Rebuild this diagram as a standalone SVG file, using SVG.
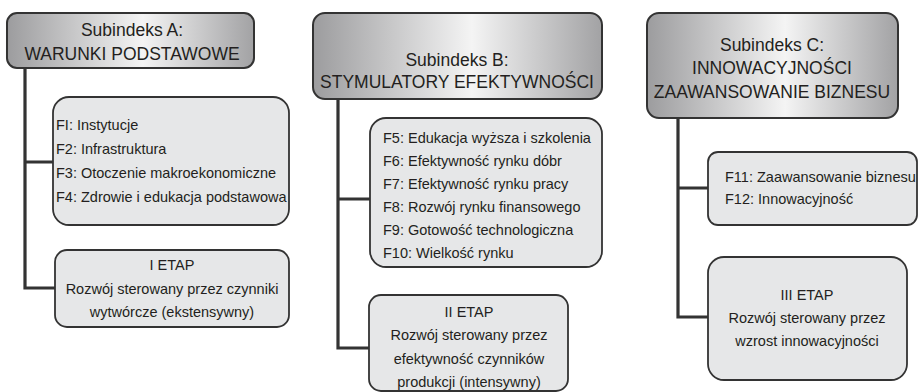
<svg xmlns="http://www.w3.org/2000/svg" width="919" height="392" viewBox="0 0 919 392">
<defs>
<linearGradient id="hdr" x1="0" y1="0" x2="1" y2="0">
<stop offset="0" stop-color="#9c9c9e"/>
<stop offset="0.55" stop-color="#f4f4f4"/>
<stop offset="1" stop-color="#a2a2a4"/>
</linearGradient>
<style>
.hdr{fill:url(#hdr);stroke:#333;stroke-width:2}
.box{fill:#e6e7e8;stroke:#333;stroke-width:1.8}
.conn{fill:none;stroke:#333;stroke-width:3.2}
text{font-family:"Liberation Sans",Arial,sans-serif;fill:#231f20}
.h{font-size:17.5px;text-anchor:middle}
.t{font-size:14.5px}
.c{font-size:14.5px;text-anchor:middle}
</style>
</defs>
<rect width="919" height="392" fill="#fff"/>
<g id="connectors">
<path class="conn" d="M25 68 V288 H55 M25 162 H53"/>
<path class="conn" d="M338 99 V348 H369 M338 199 H370"/>
<path class="conn" d="M678 118 V317 H708 M678 188 H708"/>
</g>
<g id="subA">
<rect class="hdr" x="7" y="13" width="247" height="55" rx="10"/>
<text class="h" x="132" y="36">Subindeks A:</text>
<text class="h" x="132" y="60">WARUNKI PODSTAWOWE</text>
</g>
<g id="factorsA">
<rect class="box" x="53" y="97" width="236" height="128" rx="16"/>
<text class="t" x="56" y="130">FI: Instytucje</text>
<text class="t" x="56" y="154">F2: Infrastruktura</text>
<text class="t" x="56" y="178">F3: Otoczenie makroekonomiczne</text>
<text class="t" x="56" y="202">F4: Zdrowie i edukacja podstawowa</text>
</g>
<g id="etap1">
<rect class="box" x="55" y="250" width="234" height="77" rx="12"/>
<text class="c" x="172" y="270">I ETAP</text>
<text class="c" x="172" y="294">Rozwój sterowany przez czynniki</text>
<text class="c" x="172" y="317">wytwórcze (ekstensywny)</text>
</g>
<g id="subB">
<rect class="hdr" x="313" y="13" width="289" height="86" rx="12"/>
<text class="h" x="457" y="66">Subindeks B:</text>
<text class="h" x="457" y="88">STYMULATORY EFEKTYWNOŚCI</text>
</g>
<g id="factorsB">
<rect class="box" x="370" y="118" width="232" height="149" rx="16"/>
<text class="t" x="383" y="143">F5: Edukacja wyższa i szkolenia</text>
<text class="t" x="383" y="166">F6: Efektywność rynku dóbr</text>
<text class="t" x="383" y="189">F7: Efektywność rynku pracy</text>
<text class="t" x="383" y="212">F8: Rozwój rynku finansowego</text>
<text class="t" x="383" y="235">F9: Gotowość technologiczna</text>
<text class="t" x="383" y="258">F10: Wielkość rynku</text>
</g>
<g id="etap2">
<rect class="box" x="369" y="295" width="199" height="96" rx="12"/>
<text class="c" x="469" y="317">II ETAP</text>
<text class="c" x="469" y="340">Rozwój sterowany przez</text>
<text class="c" x="469" y="364">efektywność czynników</text>
<text class="c" x="469" y="387">produkcji (intensywny)</text>
</g>
<g id="subC">
<rect class="hdr" x="647" y="13" width="251" height="105" rx="12"/>
<text class="h" x="772" y="51">Subindeks C:</text>
<text class="h" x="772" y="74">INNOWACYJNOŚCI</text>
<text class="h" x="772" y="98">ZAAWANSOWANIE BIZNESU</text>
</g>
<g id="factorsC">
<rect class="box" x="708" y="152" width="209" height="73" rx="10"/>
<text class="t" x="725" y="182">F11: Zaawansowanie biznesu</text>
<text class="t" x="725" y="204">F12: Innowacyjność</text>
</g>
<g id="etap3">
<rect class="box" x="708" y="257" width="199" height="123" rx="16"/>
<text class="c" x="807" y="300">III ETAP</text>
<text class="c" x="807" y="323">Rozwój sterowany przez</text>
<text class="c" x="807" y="346">wzrost innowacyjności</text>
</g>
</svg>
